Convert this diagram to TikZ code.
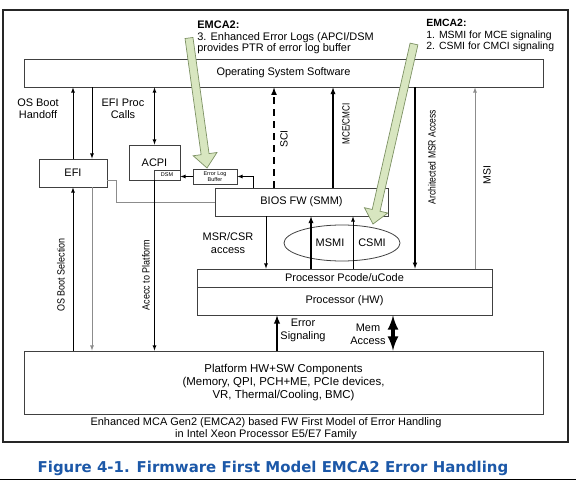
\documentclass[tikz,border=0pt]{standalone}
\usepackage{fontspec}
\setmainfont{Liberation Sans}
\newfontfamily\figfont{DejaVu Sans}
\usepackage{tikz}
\usetikzlibrary{arrows,shapes,calc}
\definecolor{emcafill}{RGB}{216,230,192}
\definecolor{emcaline}{RGB}{125,145,100}
\definecolor{figblue}{RGB}{28,88,168}

\begin{document}
\begin{tikzpicture}[x=1bp, y=-1bp, line width=0.8bp,
 box/.style={rectangle, draw=black!75, inner sep=0pt, align=center, font=\fontsize{11}{13}\selectfont},
 tiny box/.style={rectangle, draw=black!75, inner sep=0pt, align=center, font=\fontsize{5.5}{6}\selectfont},
 lbl/.style={inner sep=0pt, align=center, font=\fontsize{11}{12.5}\selectfont},
 vlbl/.style={inner sep=0pt, rotate=90, font=\fontsize{10.5}{11}\selectfont},
 flow/.style={-latex, black},
 gray flow/.style={-latex, black!45},
 thick flow/.style={-latex, black, line width=1.8bp}]
\useasboundingbox (0,0) rectangle (576,480);
\draw[line width=1.4bp, black!85] (3,10) rectangle (568,442);
\draw[black] (0,479) -- (576,479);
\node[box, minimum width=519bp, minimum height=28bp] (os) at (283.5,73) {Operating System Software};
\node[box, minimum width=68bp, minimum height=28bp] (efi) at (73,173) {EFI};
\node[box, minimum width=51bp, minimum height=35bp] (acpi) at (154.5,162.5) {ACPI};
\node[tiny box, minimum width=26bp, minimum height=10bp] (dsm) at (167,175) {DSM};
\node[tiny box, minimum width=44bp, minimum height=15bp] (buf) at (215,176.5) {Error Log\\Buffer};
\node[box, minimum width=173bp, minimum height=28bp] (bios) at (301.5,202) {BIOS FW (SMM)};
\node[draw=black!75, ellipse, minimum width=116bp, minimum height=36bp, inner sep=0pt] (smi) at (342,243) {};
\node[lbl] (msmi) at (330,243) {MSMI};
\node[lbl] (csmi) at (372,243) {CSMI};
\node[box, minimum width=295bp, minimum height=18bp] (pcode) at (344.5,278) {Processor Pcode/uCode};
\node[box, minimum width=295bp, minimum height=28bp] (hw) at (344.5,301) {Processor (HW)};
\node[box, minimum width=519bp, minimum height=63bp, font=\fontsize{11.5}{13}\selectfont] (plat) at (283.5,382.5) {Platform HW+SW Components\\(Memory, QPI, PCH+ME, PCIe devices,\\VR, Thermal/Cooling, BMC)};
\node[lbl, font=\fontsize{11}{11.5}\selectfont] (modelcap) at (266,428.5) {Enhanced MCA Gen2 (EMCA2) based FW First Model of Error Handling\\in Intel Xeon Processor E5/E7 Family};
\node[inner sep=0pt, text=figblue, font=\figfont\bfseries\fontsize{15}{16}\selectfont] (figcap) at (273,468) {Figure 4-1. Firmware First Model EMCA2 Error Handling};
\node[anchor=north west, align=left, inner sep=0pt, font=\fontsize{11}{12}\selectfont] (emcalog) at (197,20) {\textbf{EMCA2:}\\3. Enhanced Error Logs (APCI/DSM\\provides PTR of error log buffer};
\node[anchor=north west, align=left, inner sep=0pt, font=\fontsize{10.5}{11.5}\selectfont] (emcasmi) at (426,19) {\textbf{EMCA2:}\\1. MSMI for MCE signaling\\2. CSMI for CMCI signaling};
\node[lbl] (handoff) at (38,109) {OS Boot\\Handoff};
\node[lbl] (proccalls) at (123,109) {EFI Proc\\Calls};
\node[vlbl] (sci) at (284,139) {SCI};
\node[vlbl] (mce) at (346,124) {\scalebox{0.78}[1]{MCE/CMCI}};
\node[vlbl] (archmsr) at (432,157) {\scalebox{0.82}[1]{Architected MSR Access}};
\node[vlbl] (msi) at (487,175) {MSI};
\node[lbl] (msrcsr) at (228,243) {MSR/CSR\\access};
\node[vlbl] (bootsel) at (61,275) {\scalebox{0.86}[1]{OS Boot Selection}};
\node[vlbl] (acecc) at (146,275) {\scalebox{0.86}[1]{Acecc to Platform}};
\node[lbl] (errsig) at (303,330.5) {Error\\Signaling};
\node[lbl] (memacc) at (368,334.5) {Mem\\Access};
\draw[flow] (efi.north) -- (efi.north |- os.south);
\draw[flow] ([xshift=19bp]efi.north |- os.south) -- ([xshift=19bp]efi.north);
\draw[flow, latex-latex] (acpi.north) -- (acpi.north |- os.south);
\draw[flow, dashed, line width=1.6bp, dash pattern=on 7bp off 5bp] ([xshift=-27.5bp]bios.north) -- ([xshift=-27.5bp]bios.north |- os.south);
\draw[thick flow, line width=1.3bp] ([xshift=31.5bp]bios.north) -- ([xshift=31.5bp]bios.north |- os.south);
\draw[flow] ([xshift=-48.5bp]bios.north) |- (buf.east);
\draw[flow] (buf.west) -- (buf.west -| dsm.east);
\draw[black!45] ([yshift=-7bp]efi.east) -- ++(9,0) |- (bios.west);
\draw[flow] ([xshift=-35.5bp]bios.south) -- ([xshift=-35.5bp]bios.south |- pcode.north);
\draw[thick flow, line width=1.3bp] ([xshift=-31bp]smi.center |- pcode.north) -- ([xshift=-31bp]smi.center |- bios.south);
\draw[flow] ([xshift=11bp]smi.center |- pcode.north) -- ([xshift=11bp]smi.center |- bios.south);
\draw[flow, line width=1.1bp] ([xshift=70.5bp]pcode.north |- os.south) -- ([xshift=70.5bp]pcode.north);
\draw[gray flow] ([xshift=130.5bp]pcode.north) -- ([xshift=130.5bp]pcode.north |- os.south);
\draw[flow] (efi.south |- plat.north) -- (efi.south);
\draw[gray flow] ([xshift=19bp]efi.south) -- ([xshift=19bp]efi.south |- plat.north);
\draw[flow] (acpi.south) -- (acpi.south |- plat.north);
\draw[thick flow] ([xshift=-67.5bp]hw.south |- plat.north) -- ([xshift=-67.5bp]hw.south);
\draw[flow, latex-latex, line width=3.8bp] ([xshift=48.5bp]hw.south) -- ([xshift=48.5bp]hw.south |- plat.north);
\foreach \sx/\sy/\tx/\ty in {189/38/207/168, 414/44/373/224} {
 \coordinate (gs) at (\sx,\sy);
 \coordinate (gt) at (\tx,\ty);
 \coordinate (gb) at ($(gt)!14bp!(gs)$);
 \filldraw[fill=emcafill, draw=emcaline, line width=0.7bp] ($(gs)!4bp!90:(gt)$) -- ($(gb)!4bp!-90:(gs)$) -- ($(gb)!12bp!-90:(gs)$) -- (gt) -- ($(gb)!12bp!90:(gs)$) -- ($(gb)!4bp!90:(gs)$) -- ($(gs)!4bp!-90:(gt)$) -- cycle;
}
\end{tikzpicture}
\end{document}
